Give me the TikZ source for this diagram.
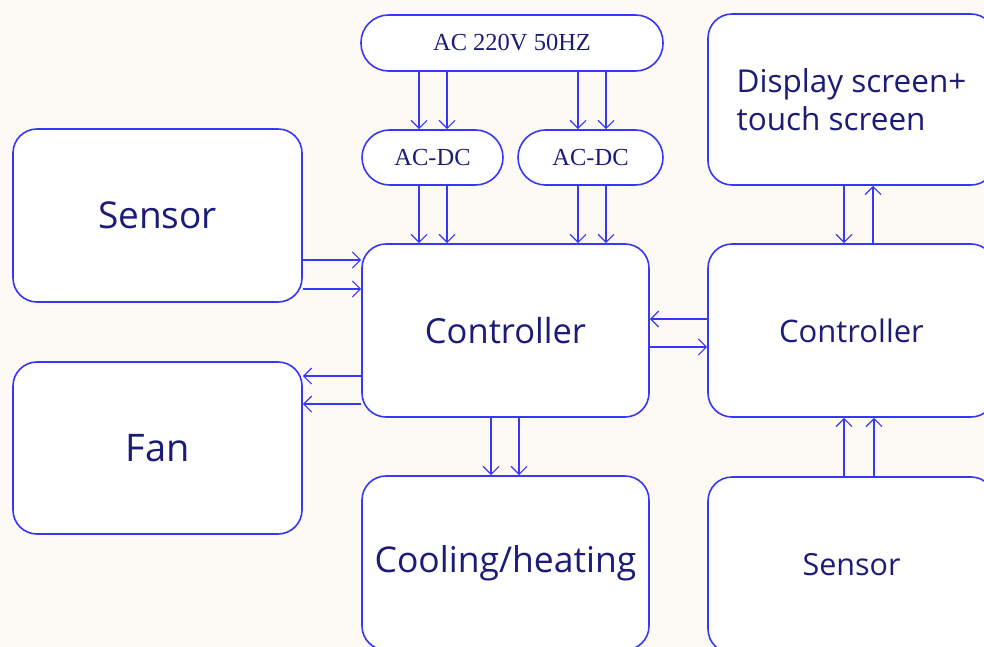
\documentclass[tikz,border=0pt]{standalone}
\usepackage{fontspec}
\newfontfamily\boxfont{Open Sans}
\newfontfamily\acfont{Liberation Serif}
\usetikzlibrary{arrows.meta}
\definecolor{bgcol}{RGB}{253,250,245}
\definecolor{linecol}{RGB}{55,55,250}
\definecolor{txtcol}{RGB}{28,28,120}
\tikzset{
  blk/.style={draw=linecol, line width=1.6pt, fill=white, rounded corners=24pt,
    inner sep=0pt, text=txtcol, font=\boxfont, align=center},
  pill/.style={draw=linecol, line width=1.6pt, fill=white, rounded corners=27.5pt,
    inner sep=0pt, text=txtcol, font=\acfont\fontsize{24.5}{26}\selectfont},
  arr/.style={draw=linecol, line width=1.4pt, -{Straight Barb[length=8pt,width=16pt,line width=1.2pt]}}
}
\begin{document}
\begin{tikzpicture}[x=1pt,y=-1pt]
\useasboundingbox (0,0) rectangle (984,647);
\clip (0,0) rectangle (984,647);
\fill[bgcol] (0,0) rectangle (984,647);

% power supply
\node[pill, minimum width=302pt, minimum height=56pt] (ac) at (512,43) {AC 220V 50HZ};
\node[pill, minimum width=141pt, minimum height=55pt] (acdcA) at (432.5,157.5) {AC-DC};
\node[pill, minimum width=145pt, minimum height=55pt] (acdcB) at (590.5,157.5) {AC-DC};

% blocks
\node[blk, minimum width=289pt, minimum height=173pt, font=\boxfont\fontsize{37}{40}\selectfont] (sensL) at (157.5,215.5) {Sensor};
\node[blk, minimum width=289pt, minimum height=172pt, font=\boxfont\fontsize{38}{40}\selectfont] (fan) at (157.5,448) {Fan};
\node[blk, minimum width=287pt, minimum height=173pt, font=\boxfont\fontsize{34.5}{38}\selectfont] (ctrl) at (505.5,330.5) {Controller};
\node[blk, minimum width=287pt, minimum height=173pt, font=\boxfont\fontsize{31}{34}\selectfont] (ctrlR) at (851.5,330.5) {Controller};
\node[blk, minimum width=287pt, minimum height=171pt, font=\boxfont\fontsize{31.5}{38}\selectfont, align=left] (disp) at (851.5,99.5) {Display screen+\\touch screen};
\node[blk, minimum width=287pt, minimum height=174pt, font=\boxfont\fontsize{35.5}{38}\selectfont] (cool) at (505.5,563) {Cooling/heating};
\node[blk, minimum width=287pt, minimum height=176pt, font=\boxfont\fontsize{30.5}{34}\selectfont] (sensR) at (851.5,565) {Sensor};

% connectors
\foreach \xx in {419,447} {
  \draw[arr] (\xx,0 |- ac.south) -- (\xx,0 |- acdcA.north);
  \draw[arr] (\xx,0 |- acdcA.south) -- (\xx,0 |- ctrl.north);
}
\foreach \xx in {578,606} {
  \draw[arr] (\xx,0 |- ac.south) -- (\xx,0 |- acdcB.north);
  \draw[arr] (\xx,0 |- acdcB.south) -- (\xx,0 |- ctrl.north);
}
\foreach \yy in {260,289} {
  \draw[arr] (sensL.east |- 0,\yy) -- (ctrl.west |- 0,\yy);
}
\foreach \yy in {376,404} {
  \draw[arr] (ctrl.west |- 0,\yy) -- (fan.east |- 0,\yy);
}
\draw[arr] (ctrlR.west |- 0,319) -- (ctrl.east |- 0,319);
\draw[arr] (ctrl.east |- 0,347) -- (ctrlR.west |- 0,347);
\foreach \xx in {491,519} {
  \draw[arr] (\xx,0 |- ctrl.south) -- (\xx,0 |- cool.north);
}
\draw[arr] (844,0 |- disp.south) -- (844,0 |- ctrlR.north);
\draw[arr] (873,0 |- ctrlR.north) -- (873,0 |- disp.south);
\foreach \xx in {844,874} {
  \draw[arr] (\xx,0 |- sensR.north) -- (\xx,0 |- ctrlR.south);
}
\end{tikzpicture}
\end{document}
